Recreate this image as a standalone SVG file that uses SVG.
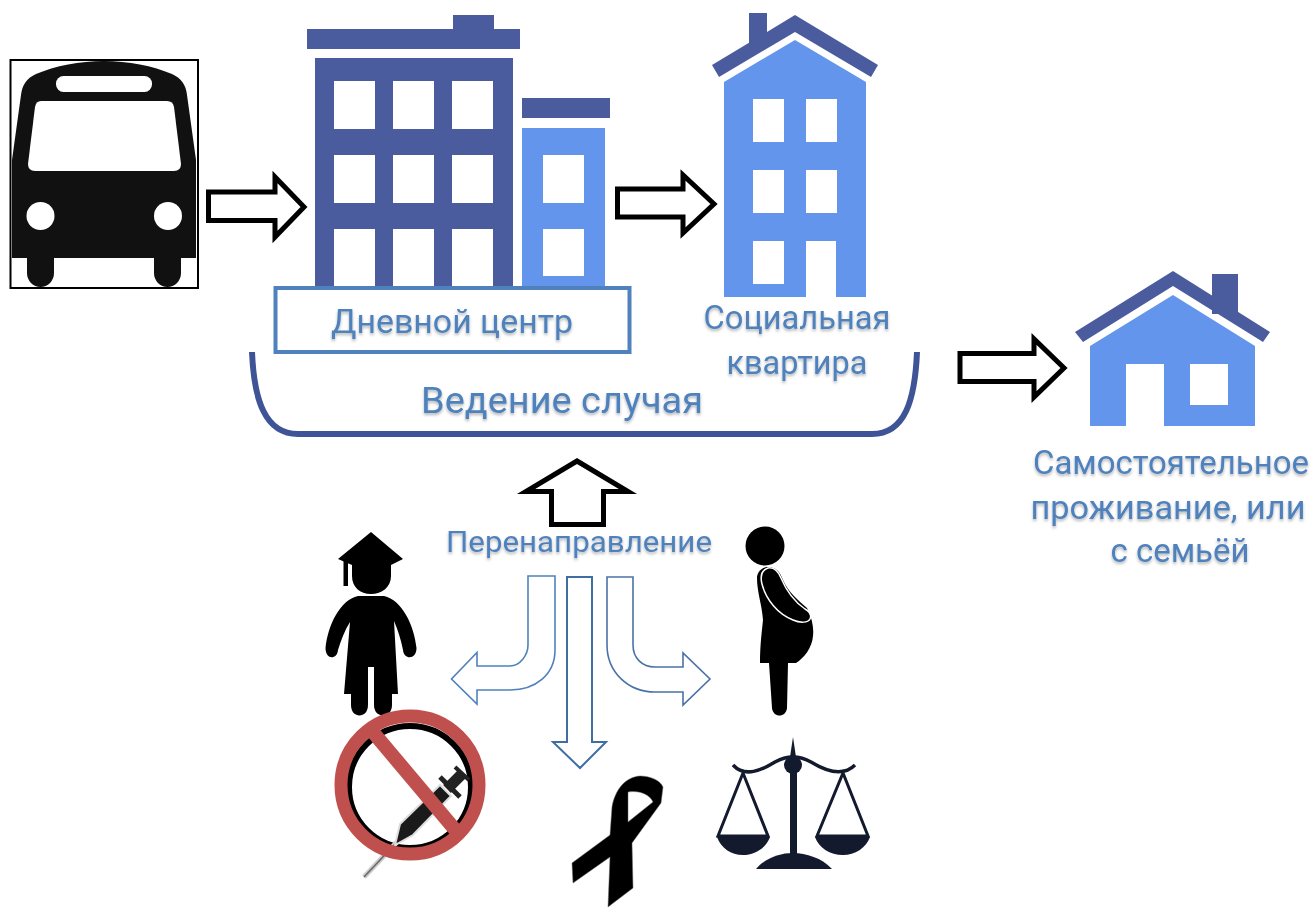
<svg xmlns="http://www.w3.org/2000/svg" width="1314" height="909" viewBox="0 0 1314 909">
<defs>
<filter id="sh" x="-5%" y="-20%" width="110%" height="150%"><feDropShadow dx="0" dy="2" stdDeviation="1.5" flood-color="#000" flood-opacity="0.3"/></filter>
</defs>
<style>
.dark{fill:#4a5c9e}
.light{fill:#6495ed}
.win{fill:#fff}
.blk{fill:#000}
.ink{fill:#141a2e}
.lbl{font-family:Roboto,"Noto Sans",sans-serif;fill:#4f81bd;text-anchor:middle;filter:url(#sh)}
.bold{fill:#fff;stroke:#000;stroke-width:5;stroke-miterlimit:10}
.thin{fill:#fff;stroke:#4f81bd;stroke-width:1.600}
</style>
<rect width="1314" height="909" fill="#fff"/>

<g id="bus">
<rect x="10.500" y="60" width="187.500" height="228" fill="#fff" stroke="#000" stroke-width="2"/>
<path fill="#111" d="M12,258V160L21,95C22,85 27,78 36,74C55,66 80,61 104,61C128,61 153,66 172,74C181,78 186,85 187,95L196,160V258H181V273A13.500,14 0 0 1 154,273V258H54V273A13.500,14 0 0 1 27,273V258Z"/>
<rect x="56" y="76" width="96" height="16" rx="7.500" class="win"/>
<path class="win" d="M41,101H167Q173,101 174,107L181,164Q181,171 174,171H35Q28,171 28,164L35,107Q36,101 41,101Z"/>
<circle cx="40.500" cy="216" r="14" class="win"/>
<circle cx="168" cy="216" r="14" class="win"/>
</g>

<g id="day-center">
<rect class="dark" x="307" y="29" width="213" height="20"/>
<rect class="dark" x="453" y="15" width="41" height="15"/>
<rect class="dark" x="315" y="58" width="198" height="230"/>
<g class="win">
<rect x="334" y="81" width="41" height="48"/><rect x="393" y="81" width="41" height="48"/><rect x="452" y="81" width="41" height="48"/>
<rect x="334" y="155" width="41" height="48"/><rect x="393" y="155" width="41" height="48"/><rect x="452" y="155" width="41" height="48"/>
<rect x="334" y="229" width="41" height="59"/><rect x="393" y="229" width="41" height="59"/><rect x="452" y="229" width="41" height="59"/>
</g>
<rect class="dark" x="522" y="98" width="88" height="20"/>
<rect class="light" x="522" y="128" width="83" height="160"/>
<rect class="win" x="543" y="155" width="41" height="48"/>
<rect class="win" x="543" y="229" width="41" height="47"/>
<rect x="275.500" y="288" width="354" height="64" fill="#fff" stroke="#4f81bd" stroke-width="4"/>
<text class="lbl" x="452" y="333" font-size="33" textLength="242" lengthAdjust="spacingAndGlyphs">Дневной центр</text>
</g>

<g id="social-apartment">
<rect class="dark" x="749" y="13" width="18" height="32"/>
<path class="dark" d="M712,65L795,15L878,65L871,77L795,32L719,77Z"/>
<path class="light" d="M795,40L866,82V297H836V241H806V297H724V82Z"/>
<g class="win">
<rect x="753" y="99" width="31" height="43"/><rect x="806" y="99" width="31" height="43"/>
<rect x="753" y="170" width="31" height="43"/><rect x="806" y="170" width="31" height="43"/>
<rect x="753" y="241" width="31" height="43"/>
</g>
<text class="lbl" x="797" y="329" font-size="33" textLength="187" lengthAdjust="spacingAndGlyphs">Социальная</text>
<text class="lbl" x="797" y="374" font-size="33" textLength="141" lengthAdjust="spacingAndGlyphs">квартира</text>
</g>

<g id="case-management">
<path d="M252,352C254,400 265,434 298,434H872C905,434 915,400 917,352" fill="none" stroke="#3f5497" stroke-width="6"/>
<text class="lbl" x="562" y="413" font-size="37" textLength="282" lengthAdjust="spacingAndGlyphs">Ведение случая</text>
</g>

<g id="independent-living">
<rect class="dark" x="1212" y="274" width="26" height="40"/>
<path class="dark" d="M1075,332L1173,271L1270,332L1263,342L1173,286L1083,342Z"/>
<path class="light" fill-rule="evenodd" d="M1173,295L1255,346V426H1164V364H1126V426H1090V346ZM1190,364V405H1228V364Z"/>
<text class="lbl" x="1171" y="474" font-size="33" textLength="276" lengthAdjust="spacingAndGlyphs">Самостоятельное</text>
<text class="lbl" x="1168" y="519" font-size="33" textLength="275" lengthAdjust="spacingAndGlyphs">проживание, или</text>
<text class="lbl" x="1180" y="562" font-size="33" textLength="139" lengthAdjust="spacingAndGlyphs">с семьёй</text>
</g>

<g id="referral">
<text class="lbl" x="579" y="552" font-size="29" textLength="266" lengthAdjust="spacingAndGlyphs">Перенаправление</text>
</g>

<g id="student">
<path class="blk" d="M371,532L403,559L391,565V576C391,587 382,594 371,594C360,594 352,587 352,576V565L338,559Z"/>
<rect class="blk" x="343.500" y="560" width="4.500" height="26"/>
<path class="blk" d="M358,596H384C402,600 414,625 416.500,648C416.500,660 404,660 403,650C401,640 398,630 394,621L398,694H392V705C392,719 374,719 374,705V667H368V705C368,719 351,719 351,705V694H344L350,622C345,630 341,640 338,650C337,660 325.500,660 325.500,648C328,625 340,600 358,596Z"/>
</g>

<g id="no-drugs">
<circle cx="410" cy="787" r="61" fill="#fff" stroke="#000" stroke-width="6"/>
<path d="M364,877L397,842" stroke="#ccc" stroke-width="5" fill="none"/>
<path d="M364,877L397,842" stroke="#666" stroke-width="1.500" fill="none"/>
<path d="M395,845L400,824L440,785L451,796L413,835Z" fill="#1a1a1a" stroke="#ddd" stroke-width="2"/>
<path d="M440,777L460,797" stroke="#222" stroke-width="5"/>
<path d="M447,789L463,773" stroke="#222" stroke-width="11"/>
<path d="M455,767L469,780" stroke="#222" stroke-width="4"/>
<circle cx="410" cy="785" r="69" fill="none" stroke="#c0504d" stroke-width="13"/>
<path d="M367,725L457,832" stroke="#c0504d" stroke-width="14"/>
</g>

<g id="ribbon">
<path class="blk" fill-rule="evenodd" stroke="#666" stroke-width="0.500" d="M608,907L633,888L632,843L661,803L663,787C660,780 650,776 640,776C625,777 615,790 612,807L610,835L572,863L573,883L610,857ZM628,792C640,790 650,795 653,802L628,822Z"/>
</g>

<g id="pregnant">
<circle class="blk" cx="765" cy="546" r="19.500"/>
<path class="blk" d="M768,567C776,567 780,572 783,580C788,592 798,600 807,608C812,618 814,628 813,636C812,648 804,658 796,663H788L787,708C786,718 773,718 772,708L769,663H760C760,645 762,630 763,620C762,605 757,592 757,578C757,572 762,567 768,567Z"/>
<path d="M768,568C762,570 760,576 762,584C766,600 778,614 793,620C800,623 808,623 810,619C812,615 810,612 805,609C792,600 786,590 781,578C778,571 774,567 768,568Z" fill="none" stroke="#fff" stroke-width="1.500"/>
</g>

<g id="scales">
<path class="ink" d="M793,737L796,757H790Z"/>
<path d="M733,765C745,778 762,770 775,762C782,758 788,757 793,757C798,757 804,758 811,762C824,770 842,778 855,765" fill="none" stroke="#141a2e" stroke-width="3.500"/>
<circle class="ink" cx="793" cy="765" r="9"/>
<rect class="ink" x="790" y="765" width="7" height="90"/>
<path class="ink" d="M756,869C765,858 780,853 793,853C806,853 822,858 832,869Z"/>
<path d="M718,836L743,773L768,836ZM817,836L843,773L868,836Z" fill="none" stroke="#141a2e" stroke-width="3"/>
<path class="ink" d="M717,837H770C766,848 755,855 743,855C731,855 721,848 717,837ZM815,837H870C866,848 855,855 843,855C830,855 819,848 815,837Z"/>
</g>

<g id="connectors">
<path class="bold" d="M208.500,192H275V177L304,207L275,237V220.500H208.500Z"/>
<path class="bold" d="M617.500,189H683V175L714,204L683,233V217H617.500Z"/>
<path class="bold" d="M960,353.500H1034V339L1064,368L1034,397V381.500H960Z"/>
<path class="bold" d="M577,461L628,491.500H603.500V524.500H551.500V491.500H526Z"/>
<path class="thin" d="M528,576H555V650C555,675 535,690 510,690H477V704L451.500,679L477,652.500V666H510C520,666 528,655 528,645Z"/>
<path class="thin" style="stroke:#3f6ea3;stroke-width:2" d="M567,577H592V742H606L580,768L553,742H567Z"/>
<path class="thin" style="stroke:#4a72a8" d="M607,577H633V645C633,658 642,667 655,667H683V653L710,679L683,705V692H655C628,692 607,672 607,645Z"/>
</g>
</svg>
